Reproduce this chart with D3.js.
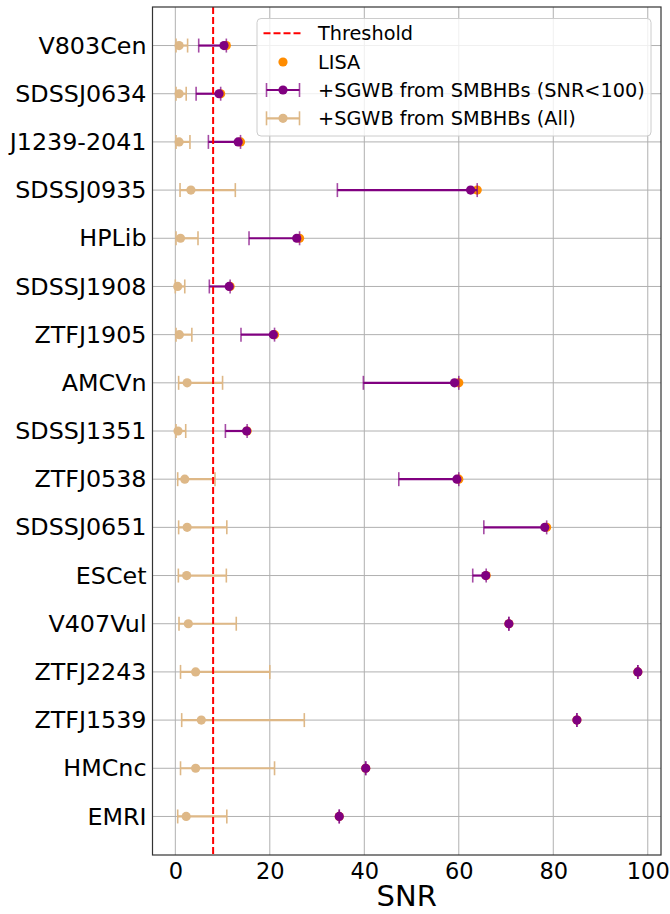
<!DOCTYPE html>
<html><head><meta charset="utf-8">
<script src="https://cdn.jsdelivr.net/npm/d3@7"></script>
<style>body{margin:0;background:#fff}svg{display:block}text{font-family:"DejaVu Sans",sans-serif}</style>
</head><body>
<svg id="c" width="670" height="914"></svg>
<script>
const categories = ["V803Cen","SDSSJ0634","J1239-2041","SDSSJ0935","HPLib","SDSSJ1908","ZTFJ1905","AMCVn","SDSSJ1351","ZTFJ0538","SDSSJ0651","ESCet","V407Vul","ZTFJ2243","ZTFJ1539","HMCnc","EMRI"];
const lisa      = [10.8, 9.6, 13.8, 63.9, 26.3, 11.6, 21.0, 60.0, 15.2, 60.0, 78.6, 65.8, 70.6, 97.9, 85.0, 40.3, 34.7];
const sgwbMid   = [10.3, 9.25, 13.3, 62.5, 25.7, 11.4, 20.75, 59.1, 15.1, 59.6, 78.2, 65.7, 70.6, 97.9, 85.0, 40.3, 34.7];
const sgwbLow   = [4.95, 4.4, 7.0, 34.3, 15.6, 7.2, 13.9, 39.8, 10.6, 47.3, 65.3, 62.95, 70.6, 97.9, 85.0, 40.3, 34.7];
const sgwbHigh  = [10.8, 9.6, 13.8, 63.9, 26.3, 11.6, 21.0, 60.0, 15.2, 60.0, 78.6, 65.8, 70.6, 97.9, 85.0, 40.3, 34.7];
const allMid    = [0.8, 0.8, 0.8, 3.3, 1.1, 0.5, 0.85, 2.5, 0.57, 2.0, 2.5, 2.4, 2.75, 4.3, 5.5, 4.3, 2.3];
const allLow    = [0.15, 0.15, 0.15, 1.0, 0.15, 0.0, 0.15, 0.7, 0.15, 0.5, 0.7, 0.64, 0.78, 1.1, 1.35, 1.1, 0.5];
const allHigh   = [2.6, 2.3, 3.1, 12.7, 4.8, 2.0, 3.5, 10.0, 2.2, 8.4, 10.9, 10.8, 12.9, 20.0, 27.3, 21.0, 10.9];
const threshold = 8;
const xTicks = [0, 20, 40, 60, 80, 100];
const legendLabels = ["Threshold", "LISA", "+SGWB from SMBHBs (SNR<100)", "+SGWB from SMBHBs (All)"];

const colPurple = "#800080", colTan = "#deb887", colOrange = "#ff8c00";
const L = 152.5, R = 661, T = 7, B = 855;
const svg = d3.select("#c");
const x = d3.scaleLinear().domain([-4.83, 102.8]).range([L, R]);
const n = categories.length;
const y = d3.scaleLinear().domain([-0.8, n - 1 + 0.8]).range([B, T]);
const yOf = i => y(n - 1 - i);

// grid
const g = svg.append("g");
g.selectAll(".gx").data(xTicks).join("line")
  .attr("x1", d => x(d)).attr("x2", d => x(d)).attr("y1", T).attr("y2", B)
  .attr("stroke", "#b0b0b0").attr("stroke-width", 1);
g.selectAll(".gy").data(categories).join("line")
  .attr("x1", L).attr("x2", R).attr("y1", (d, i) => yOf(i)).attr("y2", (d, i) => yOf(i))
  .attr("stroke", "#b0b0b0").attr("stroke-width", 1);

// axes
const xAxis = d3.axisBottom(x).tickValues(xTicks).tickSize(0).tickPadding(8);
const gx = svg.append("g").attr("transform", `translate(0,${B})`).call(xAxis);
gx.select(".domain").remove();
gx.selectAll("text").attr("font-size", 22.5).attr("fill", "#000").attr("font-family", "DejaVu Sans");
const yAxis = d3.axisLeft(d3.scalePoint().domain(categories).range([yOf(0), yOf(n - 1)])).tickSize(0).tickPadding(6);
const gy = svg.append("g").attr("transform", `translate(${L},0)`).call(yAxis);
gy.select(".domain").remove();
gy.selectAll("text").attr("font-size", 23.8).attr("fill", "#000").attr("font-family", "DejaVu Sans");

svg.append("text").attr("x", (L + R) / 2).attr("y", 906).attr("text-anchor", "middle")
  .attr("font-size", 29).text("SNR");

// marks
const capH = 7;
function errbar(sel, lo, hi, mid, color, capOpacity) {
  const gg = sel.append("g");
  gg.selectAll("line.e").data(categories).join("line")
    .attr("x1", (d, i) => x(lo[i])).attr("x2", (d, i) => x(hi[i]))
    .attr("y1", (d, i) => yOf(i)).attr("y2", (d, i) => yOf(i))
    .attr("stroke", color).attr("stroke-width", 2.2);
  [lo, hi].forEach(arr => {
    gg.selectAll(null).data(categories).join("line")
      .attr("x1", (d, i) => x(arr[i])).attr("x2", (d, i) => x(arr[i]))
      .attr("y1", (d, i) => yOf(i) - capH).attr("y2", (d, i) => yOf(i) + capH)
      .attr("stroke", color).attr("stroke-width", 1.6).attr("opacity", capOpacity);
  });
  gg.selectAll("circle").data(categories).join("circle")
    .attr("cx", (d, i) => x(mid[i])).attr("cy", (d, i) => yOf(i)).attr("r", 4.6)
    .attr("fill", color);
}
svg.append("g").selectAll("circle").data(categories).join("circle")
  .attr("cx", (d, i) => x(lisa[i])).attr("cy", (d, i) => yOf(i)).attr("r", 4.6).attr("fill", colOrange);
errbar(svg, sgwbLow, sgwbHigh, sgwbMid, colPurple, 0.7);
errbar(svg, allLow, allHigh, allMid, colTan, 1);

svg.append("line").attr("x1", x(threshold)).attr("x2", x(threshold)).attr("y1", T).attr("y2", B)
  .attr("stroke", "#ff0000").attr("stroke-width", 2).attr("stroke-dasharray", "7,3");

// spines
svg.append("rect").attr("x", L).attr("y", T).attr("width", R - L).attr("height", B - T)
  .attr("fill", "none").attr("stroke", "#333").attr("stroke-width", 1.2);

// legend
const lg = svg.append("g");
lg.append("rect").attr("x", 257).attr("y", 18.5).attr("width", 394).attr("height", 117.5).attr("rx", 4)
  .attr("fill", "#fff").attr("fill-opacity", 0.8).attr("stroke", "#cccccc").attr("stroke-width", 1);
const ly = [33.3, 62, 90, 118.3];
const hx1 = 263.5, hx2 = 302.5, hxm = (hx1 + hx2) / 2;
lg.append("line").attr("x1", hx1).attr("x2", hx2).attr("y1", ly[0]).attr("y2", ly[0])
  .attr("stroke", "#ff0000").attr("stroke-width", 2).attr("stroke-dasharray", "7,3");
lg.append("circle").attr("cx", hxm).attr("cy", ly[1]).attr("r", 4.6).attr("fill", colOrange);
[[2, colPurple, 0.7], [3, colTan, 1]].forEach(([k, c, o]) => {
  lg.append("line").attr("x1", hx1 + 3).attr("x2", hx2 - 3).attr("y1", ly[k]).attr("y2", ly[k]).attr("stroke", c).attr("stroke-width", 2.2);
  [hx1 + 3, hx2 - 3].forEach(xx => lg.append("line").attr("x1", xx).attr("x2", xx).attr("y1", ly[k] - capH).attr("y2", ly[k] + capH).attr("stroke", c).attr("stroke-width", 1.6).attr("opacity", o));
  lg.append("circle").attr("cx", hxm).attr("cy", ly[k]).attr("r", 4.6).attr("fill", c);
});
lg.selectAll("text.l").data(legendLabels).join("text")
  .attr("x", 318).attr("y", (d, i) => ly[i]).attr("dy", "0.35em")
  .attr("font-size", 19.3).attr("fill", "#000").text(d => d);
</script>
</body></html>
